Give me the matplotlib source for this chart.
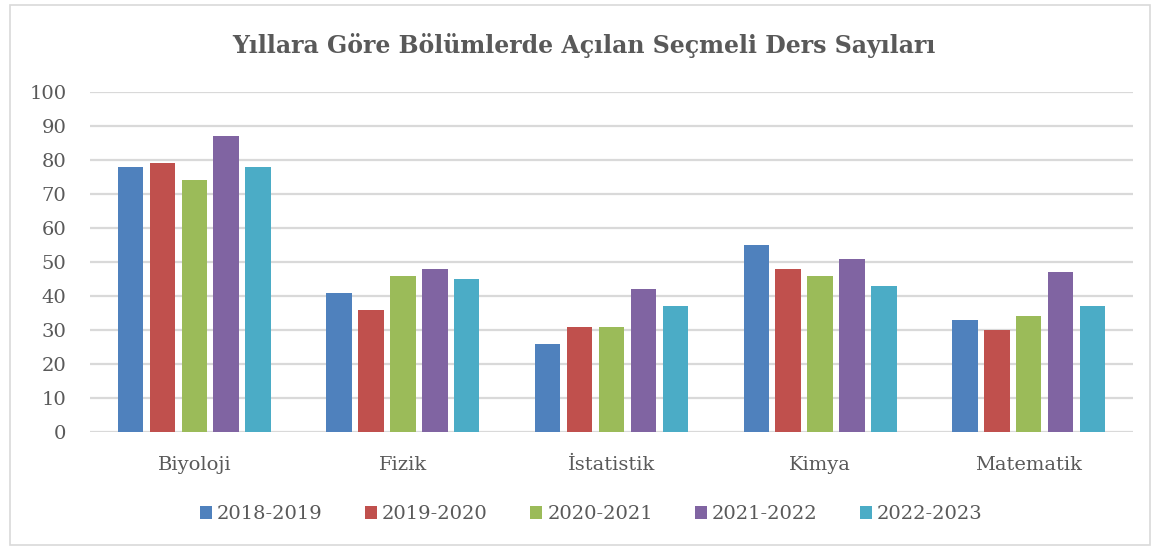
import matplotlib.pyplot as plt
import numpy as np
from matplotlib.patches import Rectangle

departments = ["Biyoloji", "Fizik", "İstatistik", "Kimya", "Matematik"]
years = ["2018-2019", "2019-2020", "2020-2021", "2021-2022", "2022-2023"]
counts = {
    "2018-2019": [78, 41, 26, 55, 33],
    "2019-2020": [79, 36, 31, 48, 30],
    "2020-2021": [74, 46, 31, 46, 34],
    "2021-2022": [87, 48, 42, 51, 47],
    "2022-2023": [78, 45, 37, 43, 37],
}
colors = ["#4f81bd", "#c0504d", "#9bbb59", "#8064a2", "#4bacc6"]

plt.rcParams['font.family'] = ['DejaVu Serif', 'Liberation Serif']
text_color = "#595959"

fig = plt.figure(figsize=(11.57, 5.47), dpi=100)
ax = fig.add_axes([90 / 1157, 1 - 432 / 547, 1043 / 1157, 340 / 547])

# outer chart frame
fig.patches.append(Rectangle((10 / 1157, 2 / 547), 1140 / 1157, 540 / 547,
                             transform=fig.transFigure, fill=False,
                             edgecolor="#d9d9d9", linewidth=1.2))

x = np.arange(len(departments))
step = 0.153
for i, (yr, c) in enumerate(zip(years, colors)):
    ax.bar(x + (i - 2) * step, counts[yr], width=0.122, color=c,
           label=yr, zorder=3)

ax.set_xlim(-0.5, len(departments) - 0.5)
ax.set_ylim(0, 100)
ax.set_yticks(range(0, 101, 10))
ax.yaxis.grid(True, color="#d9d9d9", linewidth=1.6, zorder=0)
ax.set_axisbelow(True)
for s in ax.spines.values():
    s.set_visible(False)
ax.tick_params(length=0, colors=text_color, labelsize=14)
ax.tick_params(axis='y', pad=17)
ax.tick_params(axis='x', pad=17)
ax.set_xticks(x)
ax.set_xticklabels(departments)

fig.text(0.505, 1 - 45 / 547, "Yıllara Göre Bölümlerde Açılan Seçmeli Ders Sayıları",
         ha='center', va='center', fontsize=17, fontweight='bold', color=text_color)

leg = fig.legend(loc='center', bbox_to_anchor=(0.511, 1 - 514 / 547), ncol=5,
                 frameon=False, fontsize=14, handlelength=0.65, handleheight=0.65,
                 handletextpad=0.25, columnspacing=2.15, labelcolor=text_color)

fig.savefig("out.png", dpi=100)
